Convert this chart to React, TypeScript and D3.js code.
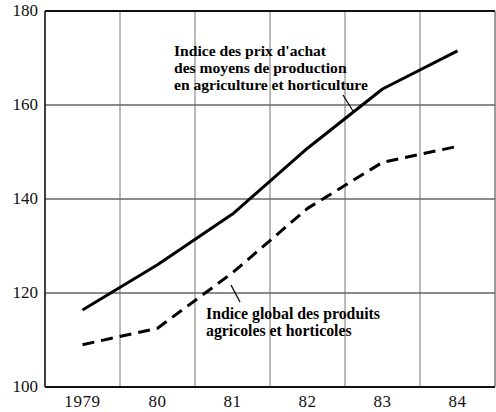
import React, { useEffect, useRef } from 'react';
import * as d3 from 'd3';

// years on the x axis (band labels)
const years = ['1979', '80', '81', '82', '83', '84'];
// Indice des prix d'achat des moyens de production
const prixAchat = [116.4, 126, 136.8, 150.8, 163.4, 171.5];
// Indice global des produits agricoles et horticoles
const produits = [109, 112.5, 124.3, 138, 147.8, 151.2];
const yTicks = [100, 120, 140, 160, 180];

const label1 = ["Indice des prix d'achat", 'des moyens de production', 'en agriculture et horticulture'];
const label2 = ['Indice global des produits', 'agricoles et horticoles'];

const W = 496, H = 412;

const App = () => {
    const ref = useRef(null);

    useEffect(() => {
        const svg = d3.select(ref.current);
        svg.selectAll('*').remove();

        const left = 45, right = 495, top = 11, bottom = 387;

        const x = d3.scaleBand().domain(years).range([left, right]).padding(0);
        const y = d3.scaleLinear().domain([100, 180]).range([bottom, top]);

        const serif = 'Liberation Serif';

        // gridlines
        svg.append('g')
            .selectAll('line')
            .data(years.slice(1))
            .join('line')
            .attr('x1', d => x(d))
            .attr('x2', d => x(d))
            .attr('y1', top)
            .attr('y2', bottom)
            .attr('stroke', '#777')
            .attr('stroke-width', 1);

        svg.append('g')
            .selectAll('line')
            .data(yTicks.slice(1, -1))
            .join('line')
            .attr('x1', left)
            .attr('x2', right)
            .attr('y1', d => y(d))
            .attr('y2', d => y(d))
            .attr('stroke', '#666')
            .attr('stroke-width', 1.3);

        // frame
        svg.append('line').attr('x1', left).attr('x2', right).attr('y1', top).attr('y2', top)
            .attr('stroke', '#111').attr('stroke-width', 2.2);
        svg.append('line').attr('x1', left).attr('x2', right).attr('y1', bottom).attr('y2', bottom)
            .attr('stroke', '#111').attr('stroke-width', 2.2);
        svg.append('line').attr('x1', left).attr('x2', left).attr('y1', top).attr('y2', bottom)
            .attr('stroke', '#111').attr('stroke-width', 1.6);
        svg.append('line').attr('x1', right).attr('x2', right).attr('y1', top).attr('y2', bottom)
            .attr('stroke', '#555').attr('stroke-width', 1.2);

        // y tick labels
        svg.append('g')
            .selectAll('text')
            .data(yTicks)
            .join('text')
            .attr('x', 38)
            .attr('y', d => y(d))
            .attr('dy', '0.3em')
            .attr('text-anchor', 'end')
            .attr('font-family', serif)
            .attr('font-size', 17)
            .attr('fill', '#111')
            .text(d => d);

        // x tick labels
        svg.append('g')
            .selectAll('text')
            .data(years)
            .join('text')
            .attr('x', d => x(d) + x.bandwidth() / 2)
            .attr('y', 407)
            .attr('text-anchor', 'middle')
            .attr('font-family', serif)
            .attr('font-size', 17)
            .attr('letter-spacing', 0.6)
            .attr('fill', '#111')
            .text(d => d);

        const line = d3.line()
            .x((d, i) => x(years[i]) + x.bandwidth() / 2)
            .y(d => y(d));

        svg.append('path')
            .datum(prixAchat)
            .attr('fill', 'none')
            .attr('stroke', '#000')
            .attr('stroke-width', 3)
            .attr('stroke-linejoin', 'round')
            .attr('d', line);

        svg.append('path')
            .datum(produits)
            .attr('fill', 'none')
            .attr('stroke', '#000')
            .attr('stroke-width', 3)
            .attr('stroke-linejoin', 'round')
            .attr('stroke-dasharray', '12 7')
            .attr('d', line);

        // annotations
        const t1 = svg.append('text')
            .attr('font-family', serif)
            .attr('font-weight', 'bold')
            .attr('font-size', 15.6)
            .attr('fill', '#000');
        label1.forEach((s, i) => {
            t1.append('tspan').attr('x', 174).attr('y', 56 + i * 17).text(s);
        });
        svg.append('line').attr('x1', 343).attr('y1', 95).attr('x2', 353).attr('y2', 111)
            .attr('stroke', '#000').attr('stroke-width', 1.3);

        const t2 = svg.append('text')
            .attr('font-family', serif)
            .attr('font-weight', 'bold')
            .attr('font-size', 15.8)
            .attr('fill', '#000');
        label2.forEach((s, i) => {
            t2.append('tspan').attr('x', 206).attr('y', 319 + i * 16.5).text(s);
        });
        svg.append('line').attr('x1', 231).attr('y1', 285).attr('x2', 240).attr('y2', 302)
            .attr('stroke', '#000').attr('stroke-width', 1.3);
    }, []);

    return (
        <svg ref={ref} width={W} height={H}
            style={{ position: 'absolute', left: 0, top: 0, background: '#fff' }} />
    );
};

export default App;
